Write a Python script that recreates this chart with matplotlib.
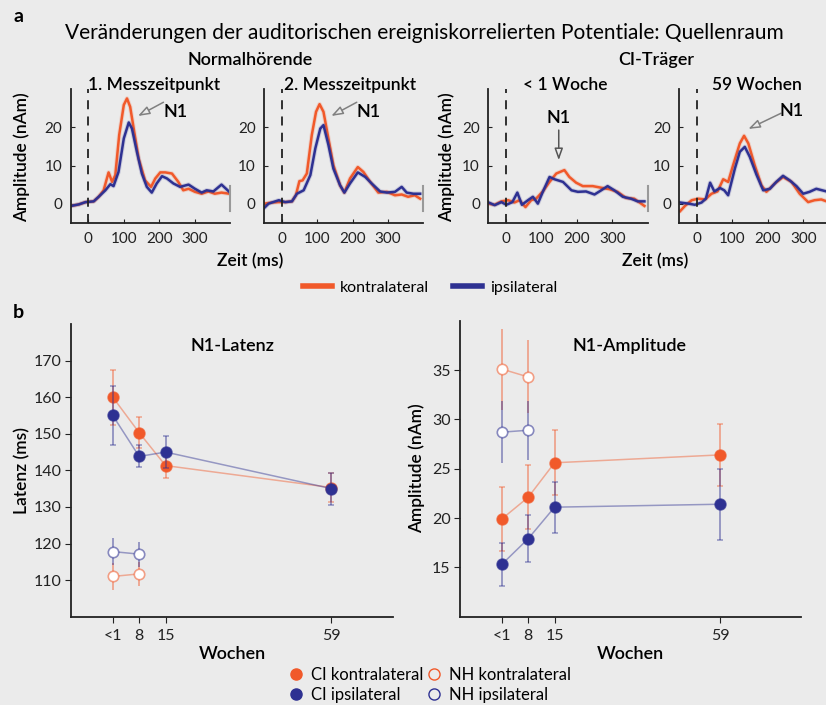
import matplotlib.pyplot as plt
from matplotlib.lines import Line2D
from matplotlib.colors import to_rgba

plt.rcParams['font.family'] = ['Lato', 'DejaVu Sans']

ROT = '#f1592a'
BLAU = '#2e3192'
HG = '#ebebeb'
W, H = 826, 705

# ---- a: Quellenraum, Zeit (ms) / Amplitude (nAm)
nh1_t_kontra = [-49, -27, -8, 15, 29, 43, 57, 67, 76, 87, 100, 109, 118, 128, 142, 160, 177, 189, 203, 217,
                236, 254, 268, 283, 301, 320, 339, 357, 376, 398]
nh1_kontra = [-0.6, -0.2, 0.4, 0.6, 1.8, 3.5, 8.2, 5.7, 7.5, 18.0, 25.9, 27.6, 25.4, 19.7, 11.8, 6.1, 4.4, 6.6,
              8.2, 8.2, 7.9, 5.7, 3.5, 3.9, 3.1, 2.6, 3.2, 2.6, 2.9, 2.6]
nh1_t_ipsi = [-49, -27, -8, 15, 29, 48, 62, 71, 85, 100, 114, 123, 137, 151, 165, 179, 193, 208, 222, 240,
              259, 283, 301, 320, 334, 353, 376, 398]
nh1_ipsi = [-0.6, -0.2, 0.4, 0.6, 1.8, 3.5, 5.1, 4.6, 8.3, 17.1, 21.3, 19.7, 13.6, 7.9, 4.4, 2.9, 5.3, 7.2,
            6.6, 5.3, 4.4, 5.0, 3.9, 2.9, 3.5, 3.2, 5.0, 3.1]

nh2_t_kontra = [-49, -27, -8, 10, 29, 40, 50, 59, 71, 85, 97, 107, 118, 132, 146, 165, 177, 193, 215, 231,
                250, 273, 297, 320, 339, 357, 376, 391]
nh2_kontra = [0.0, 0.3, 0.4, 0.4, 0.6, 2.2, 5.9, 6.1, 7.9, 18.0, 24.1, 26.1, 24.1, 17.1, 10.1, 4.8, 2.9, 6.6,
              9.6, 8.3, 5.7, 2.9, 3.1, 2.2, 2.4, 1.8, 2.2, 1.3]
nh2_t_ipsi = [-49, -37, -18, -8, 10, 29, 43, 62, 81, 95, 109, 118, 132, 146, 165, 177, 193, 215, 236, 254,
              278, 297, 320, 339, 353, 372, 391]
nh2_ipsi = [-1.1, 0.0, 0.6, 0.9, 0.4, 0.6, 2.6, 3.5, 7.5, 14.5, 19.7, 20.6, 15.4, 9.2, 4.8, 2.9, 5.3, 8.2,
            7.0, 5.3, 3.2, 2.9, 3.1, 4.4, 2.9, 2.6, 2.6]

ci1_t_kontra = [-49, -32, -13, 6, 24, 38, 55, 71, 85, 104, 123, 142, 165, 179, 198, 217, 245, 273, 292, 315,
                339, 362, 391]
ci1_kontra = [0.0, -0.3, 0.6, 0.9, 0.3, 0.9, -0.9, 0.9, 1.3, 3.2, 5.7, 7.9, 8.8, 7.0, 5.5, 4.6, 4.6, 4.1,
              3.8, 3.1, 1.5, 1.3, -0.6]
ci1_t_ipsi = [-49, -32, -13, 1, 18, 32, 45, 62, 76, 90, 104, 123, 137, 161, 185, 203, 226, 250, 269, 287,
              306, 330, 353, 372, 391]
ci1_ipsi = [0.3, -0.4, 0.4, -0.3, 0.4, 2.9, -0.3, 0.9, 1.8, 0.0, 3.1, 7.0, 6.4, 5.7, 3.5, 3.1, 3.2, 2.4,
            3.5, 4.6, 3.5, 1.8, 1.3, 0.6, 0.6]

ci59_t_kontra = [-48, -34, -15, 4, 23, 41, 58, 74, 88, 102, 121, 133, 145, 163, 182, 196, 220, 243, 267, 290,
                 314, 332, 351, 366]
ci59_kontra = [-2.0, -0.6, 0.9, 1.3, 1.1, 2.6, 3.2, 6.4, 5.7, 10.1, 15.8, 17.8, 15.8, 10.1, 4.8, 3.1, 5.3,
               7.0, 5.7, 2.6, 0.4, 0.9, 1.1, 0.6]
ci59_t_ipsi = [-48, -24, -6, 13, 25, 37, 49, 65, 77, 88, 107, 121, 135, 149, 168, 187, 206, 224, 243, 262,
               281, 300, 318, 337, 366]
ci59_ipsi = [0.3, 0.0, -0.3, 0.3, 1.3, 5.5, 3.2, 4.1, 3.5, 2.2, 9.2, 13.6, 14.9, 12.3, 7.6, 3.5, 3.9, 5.7,
             7.3, 6.1, 4.6, 2.6, 3.1, 3.9, 3.2]

# ---- b: N1 ueber Wochen
wochen = [1, 8, 15, 59]
wochen_labels = ['<1', '8', '15', '59']
wochen_nh = [1, 8]

lat_ci_kontra = [160.0, 150.3, 141.3, 135.3]
lat_ci_kontra_err = [7.5, 4.2, 3.3, 4.0]
lat_ci_ipsi = [155.0, 143.8, 145.0, 135.0]
lat_ci_ipsi_err = [8.0, 3.0, 4.3, 4.4]
lat_nh_kontra = [111.0, 111.7]
lat_nh_kontra_err = [3.6, 3.3]
lat_nh_ipsi = [117.8, 117.1]
lat_nh_ipsi_err = [3.6, 3.4]

amp_ci_kontra = [19.9, 22.1, 25.6, 26.4]
amp_ci_kontra_err = [3.2, 3.25, 3.3, 3.15]
amp_ci_ipsi = [15.3, 17.9, 21.1, 21.4]
amp_ci_ipsi_err = [2.15, 2.4, 2.6, 3.6]
amp_nh_kontra = [35.1, 34.3]
amp_nh_kontra_err = [4.1, 3.7]
amp_nh_ipsi = [28.7, 28.9]
amp_nh_ipsi_err = [3.15, 3.0]


def fx(px):
    return px / W


def fy(py):
    return 1 - py / H


def box(left, top, right, bottom):
    return [fx(left), fy(bottom), fx(right) - fx(left), fy(top) - fy(bottom)]


def kurve(ax, t, v, farbe):
    ax.plot(t, v, color=farbe, lw=3.2, alpha=0.18, solid_capstyle='round', solid_joinstyle='round')
    ax.plot(t, v, color=farbe, lw=1.8, solid_joinstyle='round')


def kurven_panel(left, t_k, v_k, t_i, v_i):
    ax = fig.add_axes(box(left, 89.3, left + 159.3, 222.7))
    ax.set_facecolor('none')
    kurve(ax, t_k, v_k, ROT)
    kurve(ax, t_i, v_i, BLAU)
    ax.axvline(0, color='#222222', ls=(0, (5, 4)), lw=1.3)
    ax.plot([400, 400], [-2, 4.5], color='#999999', lw=1.5, clip_on=False)
    ax.set_xlim(-50, 400)
    ax.set_ylim(-5, 30)
    ax.set_xticks([0, 100, 200, 300])
    ax.set_yticks([0, 10, 20])
    for s in ['top', 'right']:
        ax.spines[s].set_visible(False)
    for s in ['left', 'bottom']:
        ax.spines[s].set_linewidth(1.3)
        ax.spines[s].set_color('#222222')
    ax.tick_params(direction='in', length=3, labelsize=11, colors='#222222')
    ax.tick_params(axis='x', pad=7)
    ax.tick_params(axis='y', pad=6)
    return ax


def pfeil(ax, xy, xytext, farbe):
    ax.annotate('', xy=xy, xytext=xytext,
                arrowprops=dict(arrowstyle='-|>,head_length=0.7,head_width=0.25',
                                ec=farbe, fc=HG, lw=1.1, shrinkA=0, shrinkB=0))


fig = plt.figure(figsize=(W / 100, H / 100), dpi=100, facecolor=HG)

ax1 = kurven_panel(70.7, nh1_t_kontra, nh1_kontra, nh1_t_ipsi, nh1_ipsi)
ax2 = kurven_panel(264, nh2_t_kontra, nh2_kontra, nh2_t_ipsi, nh2_ipsi)
ax3 = kurven_panel(488.3, ci1_t_kontra, ci1_kontra, ci1_t_ipsi, ci1_ipsi)
ax4 = kurven_panel(679.3, ci59_t_kontra, ci59_kontra, ci59_t_ipsi, ci59_ipsi)

for ax in [ax1, ax2]:
    pfeil(ax, (140, 23), (212, 26.6), '#808080')
    ax.text(245, 24.1, 'N1', ha='center', va='center', fontsize=13, fontweight='semibold')
pfeil(ax3, (149, 11.4), (149, 19.3), '#555555')
ax3.text(149, 22.6, 'N1', ha='center', va='center', fontsize=13, fontweight='semibold')
pfeil(ax4, (145, 19.6), (237, 23.7), '#808080')
ax4.text(267, 24.3, 'N1', ha='center', va='center', fontsize=13, fontweight='semibold')

fig.text(fx(18), fy(16), 'a', fontsize=14, fontweight='bold', ha='center', va='center')
fig.text(fx(424), fy(33), 'Veränderungen der auditorischen ereigniskorrelierten Potentiale: Quellenraum',
         fontsize=15, ha='center', va='center')
fig.text(fx(250), fy(60), 'Normalhörende', fontsize=13, fontweight='semibold', ha='center', va='center')
fig.text(fx(656), fy(60), 'CI-Träger', fontsize=13, fontweight='semibold', ha='center', va='center')
for x, s in [(154, '1. Messzeitpunkt'), (350, '2. Messzeitpunkt'), (565, '< 1 Woche'), (757, '59 Wochen')]:
    fig.text(fx(x), fy(85), s, fontsize=12.5, fontweight='semibold', ha='center', va='center')
for x in [250, 655]:
    fig.text(fx(x), fy(261), 'Zeit (ms)', fontsize=12.5, fontweight='semibold', ha='center', va='center')
for x in [22, 447]:
    fig.text(fx(x), fy(157), 'Amplitude (nAm)', fontsize=12.5, fontweight='semibold',
             rotation=90, ha='center', va='center')

fig.legend(handles=[Line2D([], [], color=ROT, lw=4, label='kontralateral'),
                    Line2D([], [], color=BLAU, lw=4, label='ipsilateral')],
           loc='center', bbox_to_anchor=(fx(430), fy(288)), ncol=2, frameon=False,
           fontsize=11.5, handlelength=1.8, handletextpad=0.5, columnspacing=1.5)


def n1_panel(pos, ci_k, ci_k_err, ci_i, ci_i_err, nh_k, nh_k_err, nh_i, nh_i_err, ylim, yticks):
    ax = fig.add_axes(pos)
    ax.set_facecolor('none')
    for y, e, c in [(nh_k, nh_k_err, ROT), (nh_i, nh_i_err, BLAU)]:
        ax.plot(wochen_nh, y, color=c, alpha=0.45, lw=1.1)
        ax.errorbar(wochen_nh, y, yerr=e, fmt='none', ecolor=c, alpha=0.45, elinewidth=1.4, capsize=0)
        ax.plot(wochen_nh, y, 'o', ms=7.5, mfc='white', mec=to_rgba(c, 0.55), mew=1.2)
    for y, e, c in [(ci_k, ci_k_err, ROT), (ci_i, ci_i_err, BLAU)]:
        ax.plot(wochen, y, color=c, alpha=0.45, lw=1.1)
        ax.errorbar(wochen, y, yerr=e, fmt='none', ecolor=c, alpha=0.45, elinewidth=1.4, capsize=2,
                    capthick=1.2)
        ax.plot(wochen, y, 'o', ms=8, mfc=c, mec=to_rgba(c, 0.7), mew=1)
    ax.set_xlim(-10, pos[2] * W / 3.77 - 10)
    ax.set_ylim(*ylim)
    ax.set_xticks(wochen)
    ax.set_xticklabels(wochen_labels)
    ax.set_yticks(yticks)
    for s in ['top', 'right']:
        ax.spines[s].set_visible(False)
    for s in ['left', 'bottom']:
        ax.spines[s].set_linewidth(1.3)
        ax.spines[s].set_color('#222222')
    ax.tick_params(direction='out', length=4, labelsize=11.5, colors='#222222')
    ax.tick_params(axis='x', pad=5)
    ax.tick_params(axis='y', pad=3)
    return ax


n1_panel(box(71.3, 324, 392.7, 616.7), lat_ci_kontra, lat_ci_kontra_err, lat_ci_ipsi, lat_ci_ipsi_err,
         lat_nh_kontra, lat_nh_kontra_err, lat_nh_ipsi, lat_nh_ipsi_err, (100, 180),
         [110, 120, 130, 140, 150, 160, 170])
n1_panel(box(460.3, 320.7, 801, 616.7), amp_ci_kontra, amp_ci_kontra_err, amp_ci_ipsi, amp_ci_ipsi_err,
         amp_nh_kontra, amp_nh_kontra_err, amp_nh_ipsi, amp_nh_ipsi_err, (10, 40),
         [15, 20, 25, 30, 35])

fig.text(fx(18), fy(313), 'b', fontsize=14, fontweight='bold', ha='center', va='center')
fig.text(fx(232), fy(346), 'N1-Latenz', fontsize=13, fontweight='semibold', ha='center', va='center')
fig.text(fx(630), fy(346), 'N1-Amplitude', fontsize=13, fontweight='semibold', ha='center', va='center')
for x in [232, 630]:
    fig.text(fx(x), fy(654), 'Wochen', fontsize=13, fontweight='semibold', ha='center', va='center')
fig.text(fx(22.5), fy(470), 'Latenz (ms)', fontsize=12.5, fontweight='semibold', rotation=90,
         ha='center', va='center')
fig.text(fx(417), fy(468), 'Amplitude (nAm)', fontsize=12.5, fontweight='semibold', rotation=90,
         ha='center', va='center')

fig.legend(handles=[Line2D([], [], ls='none', marker='o', ms=8, mfc=ROT, mec=ROT, label='CI kontralateral'),
                    Line2D([], [], ls='none', marker='o', ms=8, mfc=BLAU, mec=BLAU, label='CI ipsilateral'),
                    Line2D([], [], ls='none', marker='o', ms=8, mfc='none', mec=ROT, label='NH kontralateral'),
                    Line2D([], [], ls='none', marker='o', ms=8, mfc='none', mec=BLAU, label='NH ipsilateral')],
           loc='center', bbox_to_anchor=(fx(429), fy(685)), ncol=2, frameon=False,
           fontsize=12, handlelength=1.0, handletextpad=0.4, columnspacing=0.15, labelspacing=0.2)

fig.savefig('out.png', dpi=100, facecolor=HG)
